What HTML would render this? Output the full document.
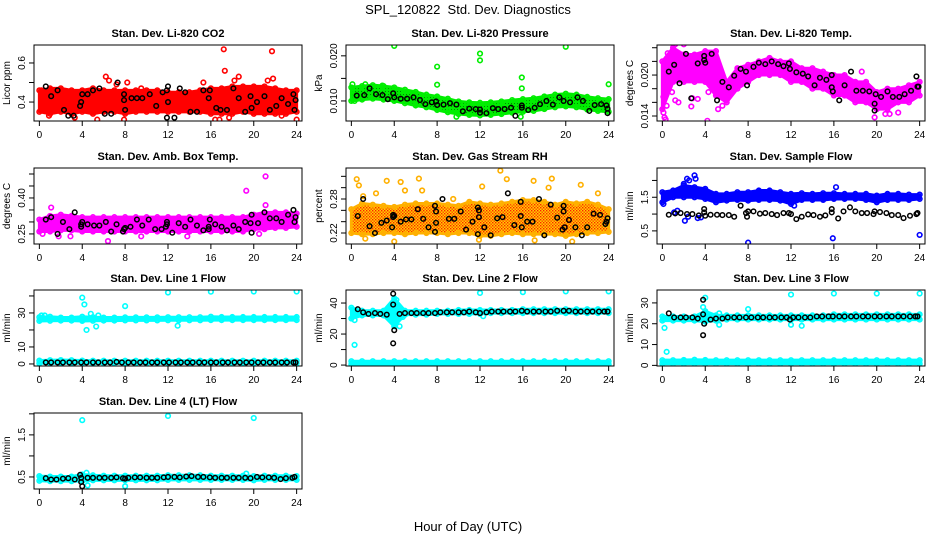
<!DOCTYPE html>
<html><head><meta charset="utf-8"><style>
html,body{margin:0;padding:0;background:#fff;}
svg{display:block;font-family:"Liberation Sans",Arial,sans-serif;}
</style></head><body>
<svg id="chart" width="936" height="540" viewBox="0 0 936 540">
<defs>
<pattern id="pRH" width="3" height="3" patternUnits="userSpaceOnUse"><rect width="3" height="3" fill="#ffd000"/><rect x="0" y="0" width="1.4" height="1.4" fill="#ff2000"/><rect x="1.5" y="1.5" width="1.4" height="1.4" fill="#ff4000"/></pattern>
<pattern id="pGR" width="3" height="3" patternUnits="userSpaceOnUse"><rect width="3" height="3" fill="#00ee00"/><rect x="1" y="1" width="1" height="1" fill="#008800"/></pattern>
</defs>
<text x="468" y="14" text-anchor="middle" font-size="13">SPL_120822&#160; Std. Dev. Diagnostics</text>
<text x="468" y="531" text-anchor="middle" font-size="13">Hour of Day (UTC)</text>
</svg>
<script>
const hours=[0,1,2,3,4,5,6,7,8,9,10,11,12,13,14,15,16,17,18,19,20,21,22,23,24];
const xTicks=[0,4,8,12,16,20,24];

// Panel 1 CO2
const co2Lo=[0.35,0.34,0.35,0.34,0.35,0.34,0.35,0.35,0.34,0.35,0.35,0.35,0.35,0.35,0.35,0.35,0.34,0.34,0.34,0.35,0.34,0.34,0.34,0.34,0.35];
const co2Hi=[0.46,0.47,0.47,0.46,0.46,0.47,0.46,0.46,0.46,0.46,0.46,0.46,0.45,0.45,0.45,0.46,0.47,0.47,0.48,0.48,0.48,0.48,0.47,0.46,0.46];
const co2Out=[[6.2,0.53],[6.5,0.51],[7.2,0.49],[8.2,0.50],[15.3,0.50],[17.2,0.67],[17.3,0.56],[18.6,0.53],[21.5,0.72],[21.7,0.66],[21.8,0.52],[18.2,0.51],[0.2,0.46],[5.4,0.31],[7.9,0.31],[3.3,0.32],[24,0.31],[16.4,0.31],[16.8,0.31],[17.7,0.32],[21.3,0.51],[9.5,0.47],[0.9,0.33],[22.6,0.33]];
const co2Blk=[[0.6,0.48],[1.1,0.43],[1.7,0.46],[2.3,0.36],[2.7,0.33],[3.2,0.33],[3.8,0.38],[3.9,0.4],[4.0,0.44],[4.5,0.44],[5.0,0.46],[5.6,0.47],[6.1,0.34],[6.7,0.34],[7.3,0.50],[7.9,0.44],[7.9,0.41],[8.0,0.36],[8.6,0.42],[9.1,0.42],[9.6,0.42],[10.3,0.44],[10.9,0.38],[11.5,0.45],[11.9,0.46],[12,0.40],[12,0.48],[11.9,0.32],[12.6,0.32],[13.1,0.47],[13.6,0.45],[14.1,0.35],[14.7,0.35],[15.3,0.46],[15.8,0.42],[15.9,0.46],[16.5,0.37],[16.9,0.36],[17.5,0.36],[18.1,0.47],[18.6,0.42],[19.2,0.35],[19.7,0.43],[19.8,0.37],[20.3,0.40],[21,0.43],[21.5,0.36],[22.1,0.38],[22.6,0.42],[23.2,0.39],[23.7,0.44],[23.8,0.36],[23.9,0.41]];
const co2Ticks=[0.4,0.5,0.6], co2Labels=["0.4","","0.6"];

// Panel 2 Pressure
const prLo=[0.0100,0.0103,0.0105,0.0103,0.0100,0.0095,0.0090,0.0086,0.0080,0.0075,0.0071,0.0069,0.0068,0.0069,0.0071,0.0074,0.0076,0.0078,0.0082,0.0086,0.0088,0.0086,0.0081,0.0078,0.0076];
const prHi=[0.0130,0.0133,0.0135,0.0133,0.0130,0.0125,0.0120,0.0114,0.0110,0.0105,0.0099,0.0097,0.0096,0.0097,0.0099,0.0102,0.0104,0.0106,0.0110,0.0114,0.0116,0.0114,0.0109,0.0106,0.0104];
const prOut=[[4,0.0222],[12,0.0205],[12,0.0190],[8,0.0176],[8,0.0136],[15.9,0.0152],[15.9,0.0128],[20,0.0220],[24,0.0137],[0.1,0.0137],[0.3,0.010],[15.8,0.0065],[9.8,0.0065],[1.3,0.0137],[2.9,0.0134]];
const prBlk=[[0.5,0.0112],[1.2,0.0113],[1.7,0.0128],[2.3,0.0115],[2.9,0.0113],[3.4,0.0104],[3.9,0.0117],[4.0,0.0108],[4.6,0.0105],[5.2,0.0105],[5.8,0.0108],[6.4,0.0102],[6.9,0.0093],[7.5,0.0097],[7.9,0.0099],[8.0,0.0091],[8.6,0.0092],[9.2,0.0095],[9.8,0.0092],[10.4,0.0077],[11,0.0083],[11.6,0.0082],[12,0.0081],[12,0.0074],[12.6,0.0073],[13.2,0.0084],[13.7,0.0082],[14.3,0.0082],[14.9,0.0085],[15.3,0.0067],[15.9,0.0090],[15.9,0.0085],[16.5,0.0080],[17.1,0.0085],[17.6,0.0093],[18.2,0.0100],[18.8,0.0092],[19.4,0.0108],[19.8,0.0100],[20.4,0.0097],[21.1,0.0108],[21.6,0.0100],[22.2,0.0078],[22.7,0.0091],[23.3,0.0093],[23.8,0.0090],[23.9,0.0083],[23.9,0.0073]];
const prTicks=[0.010,0.015,0.020], prLabels=["0.010","","0.020"];

// Panel 3 Li-820 Temp
const tLo=[0.015,0.019,0.019,0.019,0.019,0.017,0.016,0.018,0.019,0.020,0.020,0.020,0.019,0.019,0.018,0.018,0.017,0.017,0.016,0.016,0.015,0.015,0.016,0.016,0.017];
const tHi=[0.022,0.024,0.023,0.023,0.0235,0.0235,0.019,0.021,0.0215,0.022,0.0225,0.022,0.022,0.021,0.021,0.0205,0.020,0.020,0.019,0.019,0.0175,0.018,0.018,0.0185,0.019];
const tOut=[[0.2,0.0138],[0.3,0.0135],[0.1,0.0145],[0.4,0.0155],[0.1,0.0168],[0.9,0.0175],[1.2,0.0163],[1.5,0.016],[2.7,0.0154],[2.8,0.0166],[3.3,0.0165],[4.2,0.0133],[5.2,0.015],[5.6,0.0155],[4.3,0.0175],[2.0,0.0245],[0.5,0.0232],[1.2,0.0245],[19.8,0.0138],[20.8,0.0143],[22,0.0145],[21.2,0.0143],[18.6,0.0205]];
const tBlk=[[0.6,0.0205],[1.1,0.0215],[1.6,0.0188],[2.2,0.0231],[2.7,0.0166],[3.3,0.0217],[3.9,0.0228],[3.9,0.0222],[4,0.0218],[4.6,0.0231],[5.1,0.0163],[5.6,0.019],[6.2,0.0182],[6.7,0.0199],[7.3,0.0209],[7.8,0.0205],[7.9,0.0185],[8.5,0.0212],[9,0.0218],[9.6,0.0216],[10.2,0.022],[10.8,0.0216],[11.3,0.0213],[11.8,0.0217],[11.9,0.0209],[12.5,0.0204],[13.1,0.0202],[13.6,0.0198],[14.2,0.0185],[14.7,0.0196],[15.3,0.0193],[15.8,0.0200],[15.8,0.0182],[15.9,0.0176],[16.5,0.0163],[17,0.0185],[17.6,0.0205],[18.1,0.0177],[18.7,0.0177],[19.3,0.0176],[19.8,0.0158],[19.8,0.0148],[19.9,0.0172],[20.4,0.0168],[21,0.0176],[21.5,0.0168],[22.1,0.0168],[22.6,0.0172],[23.2,0.0177],[23.7,0.0198],[23.8,0.0183],[23.9,0.0183]];
const tTicks=[0.014,0.016,0.018,0.020,0.022,0.024], tLabels=["0.014","","","0.020","",""];

// Panel 4 Amb Box Temp
const abLo=[0.26,0.26,0.265,0.265,0.26,0.26,0.26,0.26,0.26,0.26,0.26,0.26,0.26,0.26,0.26,0.26,0.26,0.26,0.26,0.26,0.27,0.27,0.275,0.275,0.28];
const abHi=[0.31,0.325,0.33,0.325,0.32,0.32,0.32,0.32,0.32,0.32,0.32,0.32,0.32,0.32,0.32,0.32,0.32,0.32,0.32,0.32,0.33,0.34,0.34,0.34,0.335];
const abOut=[[19.3,0.43],[21.1,0.49],[21.1,0.37],[1.1,0.36],[6.4,0.22],[1.8,0.24],[2.9,0.24],[20.5,0.25],[0.3,0.25],[13.8,0.24],[9.5,0.24]];
const abBlk=[[0.6,0.31],[1.1,0.32],[1.7,0.25],[2.2,0.30],[2.8,0.27],[3.3,0.34],[3.9,0.28],[3.9,0.29],[4,0.30],[4.5,0.29],[5.1,0.285],[5.6,0.285],[6.2,0.30],[6.7,0.26],[7.2,0.29],[7.8,0.26],[7.9,0.27],[8,0.275],[8.5,0.28],[9.1,0.31],[9.6,0.285],[10.2,0.31],[10.8,0.27],[11.4,0.27],[11.8,0.28],[11.9,0.29],[11.9,0.30],[12.4,0.255],[13,0.295],[13.6,0.28],[14.1,0.31],[14.7,0.285],[15.3,0.265],[15.8,0.27],[15.8,0.28],[15.9,0.31],[16.4,0.29],[17,0.28],[17.5,0.265],[18.1,0.285],[18.6,0.27],[19.2,0.30],[19.7,0.295],[19.8,0.255],[19.8,0.33],[20.4,0.295],[21,0.34],[21.5,0.315],[22.1,0.315],[22.6,0.30],[23.2,0.33],[23.7,0.35],[23.8,0.30],[23.9,0.32]];
const abTicks=[0.25,0.30,0.35,0.40,0.45,0.50], abLabels=["0.25","","","0.40","",""];

// Panel 5 Gas Stream RH
const rhLo=[0.22,0.218,0.218,0.22,0.22,0.218,0.22,0.22,0.22,0.218,0.22,0.22,0.215,0.215,0.218,0.22,0.218,0.218,0.218,0.218,0.215,0.218,0.22,0.22,0.222];
const rhHi=[0.262,0.272,0.27,0.268,0.266,0.27,0.272,0.272,0.272,0.27,0.268,0.275,0.272,0.27,0.272,0.275,0.278,0.278,0.275,0.27,0.275,0.272,0.275,0.27,0.262];
const rhOut=[[0.5,0.315],[0.7,0.304],[3.3,0.312],[4.6,0.31],[6.3,0.316],[6.6,0.295],[5,0.295],[13.9,0.33],[14.5,0.315],[17,0.312],[18.7,0.316],[21.4,0.305],[18.4,0.30],[12.2,0.302],[2.3,0.29],[4,0.205],[20.6,0.205],[9.5,0.28],[11.9,0.208],[1.1,0.285],[23,0.29],[1.3,0.21],[17.1,0.207]];
const rhBlk=[[0.6,0.25],[1.1,0.28],[1.7,0.232],[2.2,0.22],[2.8,0.238],[3.3,0.242],[3.8,0.23],[3.9,0.248],[3.9,0.252],[4,0.25],[4.6,0.24],[5.1,0.244],[5.6,0.244],[6.2,0.262],[6.7,0.245],[7.2,0.23],[7.8,0.268],[7.9,0.258],[7.9,0.238],[7.8,0.222],[8.5,0.28],[9.1,0.245],[9.6,0.245],[10.2,0.258],[10.7,0.226],[11.3,0.24],[11.8,0.265],[11.9,0.26],[11.9,0.248],[11.8,0.218],[12.4,0.23],[13,0.216],[13.6,0.246],[14.1,0.248],[14.6,0.29],[15.2,0.234],[15.8,0.275],[15.8,0.25],[15.9,0.23],[16.4,0.24],[16.9,0.24],[17.5,0.28],[18,0.216],[18.6,0.27],[19.2,0.247],[19.7,0.226],[19.8,0.268],[19.8,0.258],[19.9,0.23],[20.3,0.243],[20.9,0.23],[21.5,0.216],[22,0.23],[22.6,0.254],[23.2,0.252],[23.7,0.236],[23.8,0.24],[23.9,0.246]];
const rhTicks=[0.22,0.24,0.26,0.28,0.30,0.32], rhLabels=["0.22","","","0.28","",""];

// Panel 6 Sample Flow
const sfLo=[1.35,1.5,1.5,1.5,1.45,1.35,1.4,1.42,1.4,1.42,1.42,1.4,1.3,1.42,1.42,1.42,1.45,1.45,1.45,1.42,1.35,1.42,1.42,1.42,1.45];
const sfHi=[1.65,1.7,1.85,1.8,1.75,1.6,1.6,1.65,1.65,1.7,1.7,1.65,1.6,1.62,1.6,1.62,1.62,1.6,1.6,1.6,1.55,1.6,1.6,1.58,1.58];
const sfOut=[[2.3,2.05],[2.5,2.0],[3.0,2.15],[3.1,2.05],[2.0,1.9],[1.4,1.1],[2.1,0.8],[2.4,0.92],[3.3,0.88],[3.6,0.9],[8,0.15],[15.9,0.28],[24,0.38],[16.2,1.8],[0.1,1.3],[12.3,1.25],[1.1,1.05]];
const sfBlk=[[0.6,0.98],[1.2,1.02],[1.7,1.03],[2.3,1.0],[2.8,1.0],[3.4,0.96],[3.9,1.05],[3.9,1.15],[4.0,0.95],[4.5,0.98],[5.1,0.98],[5.6,0.97],[6.2,0.97],[6.7,0.92],[7.3,1.25],[7.8,1.03],[7.9,0.92],[8.0,1.08],[8.5,1.08],[9.1,1.01],[9.6,1.03],[10.2,1.0],[10.7,0.97],[11.3,1.03],[11.8,1.03],[12,1.0],[12.5,0.85],[13,0.92],[13.6,0.99],[14.1,0.97],[14.7,0.92],[15.2,0.96],[15.8,1.15],[15.8,1.05],[16.4,0.87],[16.9,1.08],[17.5,1.2],[18,1.08],[18.6,1.03],[19.1,1.03],[19.7,1.0],[19.8,1.08],[20.3,1.06],[20.9,1.03],[21.4,0.97],[22,0.97],[22.5,0.88],[23.1,0.95],[23.7,1.0],[23.8,1.03]];
const sfTicks=[0.5,1.0,1.5,2.0], sfLabels=["0.5","","1.5",""];

// Panel 7 Line 1 Flow
const l1HiLo=[25.3,25.4,25.5,25.5,25.3,25.4,25.5,25.5,25.6,25.6,25.6,25.6,25.7,25.7,25.7,25.7,25.8,25.8,25.8,25.8,25.8,25.8,25.8,25.8,25.8];
const l1HiHi=[27.5,27.8,27.3,27.3,27.8,27.5,27.3,27.3,27.4,27.4,27.4,27.4,27.5,27.5,27.5,27.5,27.8,27.6,27.6,27.6,27.6,27.6,27.6,27.6,27.6];
const l1LoLo=[0.4,0.4,0.4,0.4,0.4,0.4,0.4,0.4,0.4,0.4,0.4,0.4,0.4,0.4,0.4,0.4,0.4,0.4,0.4,0.4,0.4,0.4,0.4,0.4,0.4];
const l1LoHi=[2.0,2.2,2.3,2.2,2.0,1.9,1.9,1.9,1.9,1.9,1.9,1.9,1.9,1.9,1.9,1.9,1.9,1.9,1.9,1.9,1.9,1.9,1.9,1.9,1.9];
const l1Out=[[4,39],[4.2,35],[4.8,29.5],[4.4,20],[5.3,22],[5.5,28.5],[8,34],[12,42],[12.9,22.5],[16,42.5],[20,42.6],[24,42.6],[0.2,28.5],[0.5,28.5]];
const l1Blk=[[0.6,0.9],[1.1,0.9],[1.7,0.9],[2.2,0.9],[2.8,0.9],[3.3,0.9],[3.9,0.9],[4.4,0.9],[5.0,0.9],[5.5,0.9],[6.1,0.9],[6.6,0.9],[7.2,1.2],[7.7,0.9],[8.3,0.9],[8.8,0.9],[9.4,0.9],[9.9,0.9],[10.5,0.9],[11.0,0.9],[11.6,0.9],[12.1,0.9],[12.7,0.9],[13.2,0.9],[13.8,0.9],[14.3,0.9],[14.9,0.9],[15.4,0.9],[16.0,0.9],[16.5,0.9],[17.1,0.9],[17.6,0.9],[18.2,0.9],[18.7,0.9],[19.3,0.9],[19.8,0.9],[20.4,0.9],[20.9,0.9],[21.5,0.9],[22.0,0.9],[22.6,0.9],[23.1,0.9],[23.7,0.9],[23.9,0.9]];
const l1Ticks=[0,10,20,30,40], l1Labels=["0","10","","30",""];

// Panel 8 Line 2 Flow
const l2HiLo=[30,32,32,32,25,32.5,32.5,32.5,33,33,33,33,33,33.5,33.5,33.5,33.5,33.5,33.5,33.5,33.5,33.5,33.5,33.5,33.5];
const l2HiHi=[37,35,35,35,43,35,35,35,35,35,35.5,35.5,35.5,35.5,35.5,35.5,36,36,36,36,36,36,36,36,36];
const l2LoLo=[0.5,0.5,0.5,0.5,0.5,0.5,0.5,0.5,0.5,0.5,0.5,0.5,0.5,0.5,0.5,0.5,0.5,0.5,0.5,0.5,0.5,0.5,0.5,0.5,0.5];
const l2LoHi=[2.5,2.5,2.5,2.5,2.5,2.5,2.5,2.5,2.5,2.5,2.5,2.5,2.5,2.5,2.5,2.5,2.5,2.5,2.5,2.5,2.5,2.5,2.5,2.5,2.5];
const l2Out=[[0.3,13],[0.2,34],[0.3,29],[4.5,25],[4.8,31],[12,46.5],[16,47],[20,47.5],[24,47.5],[12.3,31.5],[4.2,42]];
const l2Blk=[[0.6,36],[1.1,34],[1.6,33],[2.2,33.5],[2.7,33],[3.3,32.5],[3.9,46],[3.9,39],[4,22.5],[3.9,14],[4.5,33],[5,33.5],[5.6,33.5],[6.1,33.5],[6.7,33.5],[7.2,33.5],[7.8,33.5],[8.3,34],[8.9,34],[9.4,34],[10,34],[10.5,34],[11,34.5],[11.6,34],[12,33.5],[12.6,34],[13.1,34.5],[13.7,34.5],[14.2,34.5],[14.8,34.5],[15.3,34.5],[15.9,35],[16.4,34.5],[17,34.5],[17.5,34.5],[18.1,34.5],[18.6,34.5],[19.2,35],[19.8,35],[20.3,35],[20.9,34.5],[21.4,34.5],[22,34.5],[22.5,34.5],[23.1,34.5],[23.6,34.5],[23.9,34.5]];
const l2Ticks=[0,10,20,30,40], l2Labels=["0","","20","","40"];

// Panel 9 Line 3 Flow
const l3HiLo=[21.5,21.5,21.5,21.5,21,21.5,22,22,22,22,22,22,22,22,22,22,22,22,22,22,22,22,22,22,22];
const l3HiHi=[23.5,23.5,23.5,23.5,26,24,24,24,24,24,24,24,24,24,24,24,24.5,24.5,24.5,24.5,24.5,24.5,24.5,24.5,24.5];
const l3LoLo=[0.8,0.8,0.8,0.8,0.8,0.8,0.8,0.8,0.8,0.8,0.8,0.8,0.8,0.8,0.8,0.8,0.8,0.8,0.8,0.8,0.8,0.8,0.8,0.8,0.8];
const l3LoHi=[2.5,2.5,2.6,2.7,2.6,2.5,2.5,2.5,2.5,2.5,2.5,2.5,2.5,2.5,2.5,2.5,2.5,2.5,2.5,2.5,2.5,2.5,2.5,2.5,2.5];
const l3Out=[[0.2,18],[0.4,6.5],[3.8,28],[4,32.5],[5.3,19.5],[5.3,25],[8,27],[12,34],[12,19.5],[13,19],[16,34.5],[20,34.5],[24,34.5]];
const l3Blk=[[0.6,25],[1.1,23],[1.7,23],[2.2,23],[2.8,23],[3.3,22.5],[3.8,31.5],[3.8,24.5],[3.9,20],[3.8,14.5],[4.5,22],[5,22.5],[5.6,22.5],[6.1,23],[6.7,23],[7.2,23],[7.8,23],[8.3,23],[8.9,23],[9.4,23],[10,23],[10.5,23],[11.1,23],[11.6,23],[11.9,22],[12.2,23],[12.7,23],[13.3,23],[13.8,23],[14.4,23.5],[14.9,23.5],[15.5,23.5],[15.9,23.5],[16.5,23.5],[17,23.5],[17.6,23.5],[18.1,23.5],[18.7,23.5],[19.2,23.5],[19.8,23.5],[20.3,23.5],[20.9,23.5],[21.4,23.5],[22,23.5],[22.5,23.5],[23.1,23.5],[23.6,23.5],[23.8,23.5]];
const l3Ticks=[0,10,20,30], l3Labels=["0","10","20","30"];

// Panel 10 Line 4 (LT) Flow
const l4Lo=[0.41,0.40,0.40,0.40,0.40,0.42,0.42,0.42,0.42,0.42,0.42,0.42,0.43,0.43,0.43,0.43,0.43,0.43,0.43,0.43,0.42,0.43,0.43,0.43,0.43];
const l4Hi=[0.52,0.51,0.51,0.51,0.56,0.54,0.53,0.53,0.53,0.53,0.53,0.53,0.54,0.54,0.54,0.54,0.53,0.53,0.53,0.53,0.52,0.53,0.53,0.53,0.52];
const l4Out=[[4,1.85],[12,1.95],[20,1.9],[4.5,0.3],[8,0.28],[4.4,0.6],[19.3,0.58]];
const l4Blk=[[0.6,0.47],[1.1,0.44],[1.6,0.44],[2.2,0.46],[2.7,0.47],[3.3,0.44],[3.8,0.55],[3.9,0.48],[3.9,0.38],[4,0.28],[4.5,0.48],[5,0.48],[5.6,0.48],[6.1,0.48],[6.7,0.48],[7.2,0.49],[7.8,0.47],[8,0.46],[8.3,0.48],[8.9,0.49],[9.4,0.49],[10,0.48],[10.5,0.48],[11,0.48],[11.6,0.49],[12,0.5],[12.6,0.5],[13.1,0.49],[13.7,0.51],[14.2,0.52],[14.8,0.5],[15.3,0.5],[15.9,0.49],[16.4,0.48],[17,0.48],[17.5,0.48],[18.1,0.48],[18.6,0.48],[19.2,0.48],[19.7,0.47],[20.3,0.5],[20.8,0.49],[21.4,0.49],[21.9,0.48],[22.5,0.45],[23,0.47],[23.6,0.48],[23.8,0.5]];
const l4Ticks=[0.5,1.0,1.5,2.0], l4Labels=["0.5","","1.5",""];

const NS='http://www.w3.org/2000/svg';
const svg=document.getElementById('chart');
function mk(tag,attrs,parent){const e=document.createElementNS(NS,tag);for(const k in attrs)e.setAttribute(k,attrs[k]);(parent||svg).appendChild(e);return e;}

const colX=[34,346,657], rowY=[45,168,290,413], W=268, H=76;
const panels=[
 {key:'co2',title:'Stan. Dev. Li-820 CO2',ylab:'Licor ppm',c:0,r:0,dom:[0.303,0.692],ticks:co2Ticks,labels:co2Labels,bands:[[co2Lo,co2Hi]],fill:'#ff0000',col:'#ff0000',out:co2Out,blk:co2Blk},
 {key:'pressure',title:'Stan. Dev. Li-820 Pressure',ylab:'kPa',c:1,r:0,dom:[0.00556,0.0224],ticks:prTicks,labels:prLabels,bands:[[prLo,prHi]],fill:'url(#pGR)',col:'#00ee00',out:prOut,blk:prBlk},
 {key:'li820-temp',title:'Stan. Dev. Li-820 Temp.',ylab:'degrees C',c:2,r:0,dom:[0.01327,0.0244],ticks:tTicks,labels:tLabels,bands:[[tLo,tHi]],fill:'#ff00ff',col:'#ff00ff',out:tOut,blk:tBlk},
 {key:'amb-box-temp',title:'Stan. Dev. Amb. Box Temp.',ylab:'degrees C',c:0,r:1,dom:[0.208,0.525],ticks:abTicks,labels:abLabels,bands:[[abLo,abHi]],fill:'#ff00ff',col:'#ff00ff',out:abOut,blk:abBlk},
 {key:'gas-rh',title:'Stan. Dev. Gas Stream RH',ylab:'percent',c:1,r:1,dom:[0.2006,0.3347],ticks:rhTicks,labels:rhLabels,bands:[[rhLo,rhHi]],fill:'url(#pRH)',col:'#ffb000',out:rhOut,blk:rhBlk},
 {key:'sample-flow',title:'Stan. Dev. Sample Flow',ylab:'ml/min',c:2,r:1,dom:[0.11,2.37],ticks:sfTicks,labels:sfLabels,bands:[[sfLo,sfHi]],fill:'#0000ff',col:'#0000ff',out:sfOut,blk:sfBlk},
 {key:'line1-flow',title:'Stan. Dev. Line 1 Flow',ylab:'ml/min',c:0,r:2,dom:[-1.2,43.5],ticks:l1Ticks,labels:l1Labels,bands:[[l1HiLo,l1HiHi],[l1LoLo,l1LoHi]],fill:'#00ffff',col:'#00ffff',out:l1Out,blk:l1Blk},
 {key:'line2-flow',title:'Stan. Dev. Line 2 Flow',ylab:'ml/min',c:1,r:2,dom:[-0.6,48.4],ticks:l2Ticks,labels:l2Labels,bands:[[l2HiLo,l2HiHi],[l2LoLo,l2LoHi]],fill:'#00ffff',col:'#00ffff',out:l2Out,blk:l2Blk},
 {key:'line3-flow',title:'Stan. Dev. Line 3 Flow',ylab:'ml/min',c:2,r:2,dom:[-0.3,36.2],ticks:l3Ticks,labels:l3Labels,bands:[[l3HiLo,l3HiHi],[l3LoLo,l3LoHi]],fill:'#00ffff',col:'#00ffff',out:l3Out,blk:l3Blk},
 {key:'line4-flow',title:'Stan. Dev. Line 4 (LT) Flow',ylab:'ml/min',c:0,r:3,dom:[0.214,2.02],ticks:l4Ticks,labels:l4Labels,bands:[[l4Lo,l4Hi]],fill:'#00ffff',col:'#00ffff',out:l4Out,blk:l4Blk}
];

panels.forEach(p=>{
 const x0=colX[p.c], y0=rowY[p.r];
 const xs=v=>x0+(v+0.5)/25*W;
 const ys=v=>y0+H-(v-p.dom[0])/(p.dom[1]-p.dom[0])*H;
 const g=mk('g',{});
 
 
 const cid='clip-'+p.key;
 const cp=mk('clipPath',{id:cid},g); mk('rect',{x:x0,y:y0,width:W,height:H},cp);
 const plot=mk('g',{'clip-path':'url(#'+cid+')'},g);
 p.bands.forEach((b,bi)=>{
  const lo=b[0],hi=b[1];
  let pts=hours.map((h,i)=>xs(h)+','+ys(hi[i]));
  pts=pts.concat(hours.map((h,i)=>xs(h)+','+ys(lo[i])).reverse());
  const poly=mk('polygon',{points:pts.join(' '),fill:p.fill,stroke:p.col,'stroke-width':3,'stroke-linejoin':'round'},plot);
  
  
  hours.forEach((h,i)=>{
   [hi[i],lo[i]].forEach(v=>{
    const c=mk('circle',{cx:xs(h),cy:ys(v),r:2.3,fill:'none',stroke:p.col,'stroke-width':1.6},plot);
    
    
   });
  });
 });
 p.out.forEach(d=>{
  const c=mk('circle',{cx:xs(d[0]),cy:ys(d[1]),r:2.3,fill:'none',stroke:p.col,'stroke-width':1.6},plot);
  
  
 });
 p.blk.forEach(d=>{
  const c=mk('circle',{cx:xs(d[0]),cy:ys(d[1]),r:2.3,fill:'none',stroke:'#000','stroke-width':1.5},plot);
  
  
 });
 const box=mk('rect',{x:x0,y:y0,width:W,height:H,fill:'none',stroke:'#000','stroke-width':1},g);
 
 
 const t=mk('text',{x:x0+W/2,y:y0-8,'text-anchor':'middle','font-size':11,'font-weight':'bold'},g);
 t.textContent=p.title;
 
 
 mk('line',{x1:xs(0),x2:xs(24),y1:y0+H,y2:y0+H,stroke:'#000'},g);
 xTicks.forEach(v=>{
  mk('line',{x1:xs(v),x2:xs(v),y1:y0+H,y2:y0+H+5,stroke:'#000'},g);
  const tl=mk('text',{x:xs(v),y:y0+H+17,'text-anchor':'middle','font-size':10},g);
  tl.textContent=v;
  
  
 });
 mk('line',{x1:x0,x2:x0,y1:ys(p.ticks[0]),y2:ys(p.ticks[p.ticks.length-1]),stroke:'#000'},g);
 p.ticks.forEach((v,i)=>{
  mk('line',{x1:x0-5,x2:x0,y1:ys(v),y2:ys(v),stroke:'#000'},g);
  if(p.labels[i]){
   const yy=ys(v), xx=x0-9;
   const tl=mk('text',{x:xx,y:yy,'text-anchor':'middle','font-size':10,transform:'rotate(-90 '+xx+' '+yy+')'},g);
   tl.textContent=p.labels[i];
   
   
  }
 });
 const lx=x0-24, ly=y0+H/2;
 const yl=mk('text',{x:lx,y:ly,'text-anchor':'middle','font-size':10,transform:'rotate(-90 '+lx+' '+ly+')'},g);
 yl.textContent=p.ylab;
 
 
});
</script>
</body></html>
